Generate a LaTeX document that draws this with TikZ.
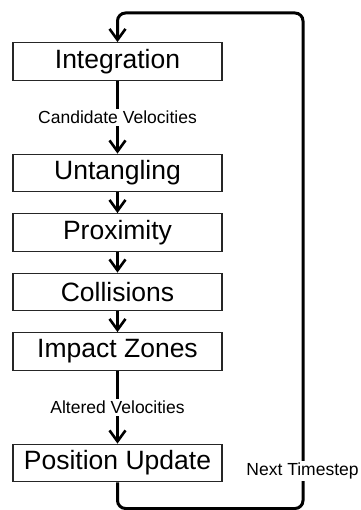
\documentclass[tikz,border=0pt]{standalone}
\usepackage{fontspec}
\setmainfont{Liberation Sans}
\usetikzlibrary{arrows.meta}
\begin{document}
\begin{tikzpicture}[x=1pt,y=-1pt,
 stage/.style={draw=black!85,line width=1.3pt,minimum width=209pt,minimum height=37.5pt,inner sep=0pt,font=\fontsize{26.5}{30}\selectfont},
 flow/.style={line width=3pt,-{Straight Barb[length=11pt,width=16pt,line width=2.6pt]}},
 lab/.style={fill=white,inner sep=2pt,font=\fontsize{17.5}{20}\selectfont}]
\useasboundingbox (0,0) rectangle (360,510);
\node[stage] (int) at (117.5,61.5) {Integration};
\node[stage] (unt) at (117.5,173) {Untangling};
\node[stage] (prox) at (117.5,232.5) {Proximity};
\node[stage] (col) at (117.5,292) {Collisions};
\node[stage] (imp) at (117.5,351.5) {Impact Zones};
\node[stage] (pos) at (117.5,463) {Position Update};
\draw[flow] (int) -- node[lab] (cand) {Candidate Velocities} (unt);
\draw[flow] (unt) -- (prox);
\draw[flow] (prox) -- (col);
\draw[flow] (col) -- (imp);
\draw[flow] (imp) -- node[lab] (alt) {Altered Velocities} (pos);
\coordinate (bl) at (117.5,508.5);
\coordinate (br) at (303,508.5);
\coordinate (tr) at (303,13);
\coordinate (tl) at (117.5,13);
\draw[flow,rounded corners=8pt] (pos.south) -- (bl) -- (br) -- (tr) -- (tl) -- (int.north);
\node[lab] (next) at (302.5,471) {Next Timestep};
\end{tikzpicture}
\end{document}
